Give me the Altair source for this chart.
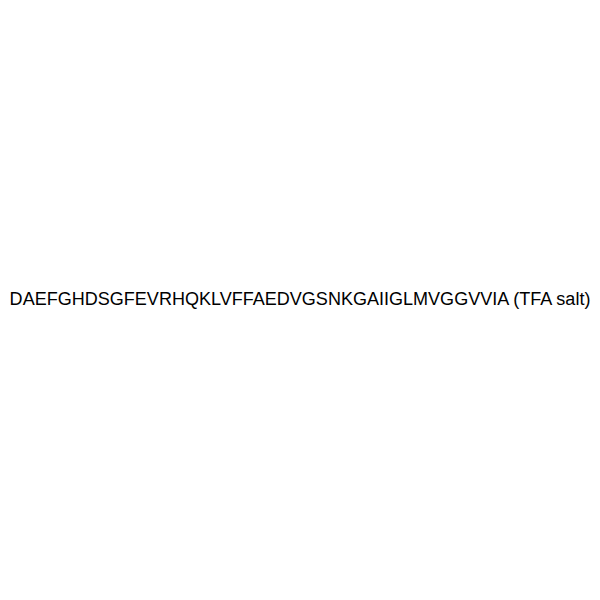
import altair as alt
import pandas as pd

labels = ["DAEFGHDSGFEVRHQKLVFFAEDVGSNKGAIIGLMVGGVVIA (TFA salt)"]

df = pd.DataFrame({"label": labels})

chart = alt.Chart(df).mark_text(
    font="Arial",
    fontSize=19,
    color="#000000",
    align="center",
    baseline="middle",
    limit=0,
).encode(
    text="label:N",
    x=alt.value(291.5),
    y=alt.value(291),
).properties(
    width=584,
    height=584,
    padding=0,
    background="white",
).configure_view(stroke=None)

chart.save("out.html", embed_options={"renderer": "svg", "actions": False})
